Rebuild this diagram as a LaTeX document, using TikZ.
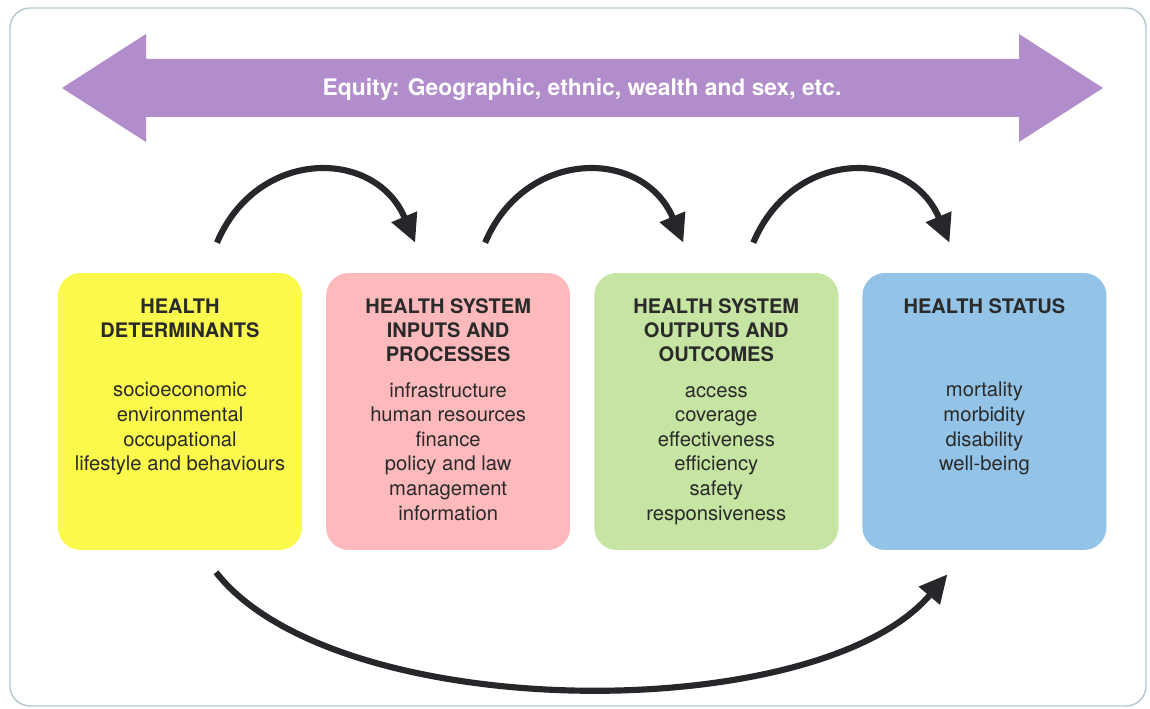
\documentclass[tikz,border=0pt]{standalone}
\usepackage{fontspec}
\setmainfont{TeX Gyre Heros}
\usetikzlibrary{calc,arrows.meta,positioning}
\definecolor{equity}{HTML}{B28DCB}
\definecolor{detyellow}{HTML}{FBFA4C}
\definecolor{inppink}{HTML}{FDB9BB}
\definecolor{outgreen}{HTML}{C6E4A2}
\definecolor{statblue}{HTML}{93C3E6}
\definecolor{inkgray}{HTML}{2A2A2A}
\definecolor{arcblack}{HTML}{26272B}
\definecolor{frameline}{HTML}{B4C8D0}

\begin{document}
\begin{tikzpicture}[x=0.02cm, y=0.02cm]

\tikzset{
box/.style={rounded corners=0.45cm, minimum width=4.88cm, minimum height=5.54cm, inner sep=0pt},
head/.style={font=\bfseries\fontsize{11.4pt}{13.6pt}\selectfont, align=center, text=inkgray, inner sep=0pt, anchor=base},
items/.style={font=\fontsize{11.5pt}{14pt}\selectfont, align=center, text=inkgray, inner sep=0pt, anchor=base},
flow/.style={-{Triangle[length=16pt,width=15pt]}, line width=3.5pt, draw=arcblack}
}

% Frame
\fill[white] (0,0) rectangle (1150,709);
\useasboundingbox (0,0) rectangle (1150,709);
\draw[frameline, line width=0.8pt, rounded corners=0.4cm] (10,3) rectangle (1146,701);

% Equity arrow
\fill[equity] (62,621) -- (146,675) -- (146,650) -- (1019,650) -- (1019,675) -- (1103,621)
  -- (1019,567) -- (1019,592) -- (146,592) -- (146,567) -- cycle;
\node (lab) [anchor=base, text=white, font=\bfseries\fontsize{13pt}{15pt}\selectfont] at (582,613)
  {Equity: Geographic, ethnic, wealth and sex, etc.};

% Boxes
\node (box1) [box, fill=detyellow] at (180,297.5) {};
\node (box2) [box, fill=inppink, right=0.47cm of box1] {};
\node (box3) [box, fill=outgreen, right=0.47cm of box2] {};
\node (box4) [box, fill=statblue, right=0.47cm of box3] {};

% Labels (base = last line)
\node (head1) [head] at ($(box1.north)+(0,-65)$) {HEALTH\\DETERMINANTS};
\node (head2) [head] at ($(box2.north)+(0,-89)$) {HEALTH SYSTEM\\INPUTS AND\\PROCESSES};
\node (head3) [head] at ($(box3.north)+(0,-89)$) {HEALTH SYSTEM\\OUTPUTS AND\\OUTCOMES};
\node (head4) [head] at ($(box4.north)+(0,-41)$) {HEALTH STATUS};

\node (list1) [items] at ($(box1.north)+(0,-198)$) {socioeconomic\\environmental\\occupational\\lifestyle and behaviours};
\node (list2) [items] at ($(box2.north)+(0,-247.5)$) {infrastructure\\human resources\\finance\\policy and law\\management\\information};
\node (list3) [items] at ($(box3.north)+(0,-247.5)$) {access\\coverage\\effectiveness\\efficiency\\safety\\responsiveness};
\node (list4) [items] at ($(box4.north)+(0,-198)$) {mortality\\morbidity\\disability\\well-being};

% Arrows
\coordinate (out1) at ($(box1.north)+(37,30)$);
\coordinate (out2) at ($(box2.north)+(37,30)$);
\coordinate (out3) at ($(box3.north)+(37,30)$);
\coordinate (in2) at ($(box2.north)+(-33,30)$);
\coordinate (in3) at ($(box3.north)+(-33,30)$);
\coordinate (in4) at ($(box4.north)+(-35,30)$);
\coordinate (low1) at ($(box1.south)+(36,-22)$);
\coordinate (low4) at ($(box4.south)+(-37,-24)$);

\draw[flow] (out1) .. controls +(40,95) and +(-40,95) .. (in2);
\draw[flow] (out2) .. controls +(40,95) and +(-40,95) .. (in3);
\draw[flow] (out3) .. controls +(40,95) and +(-40,95) .. (in4);
\draw[flow] (low1) .. controls +(120,-153) and +(-130,-153) .. (low4);

\end{tikzpicture}
\end{document}
